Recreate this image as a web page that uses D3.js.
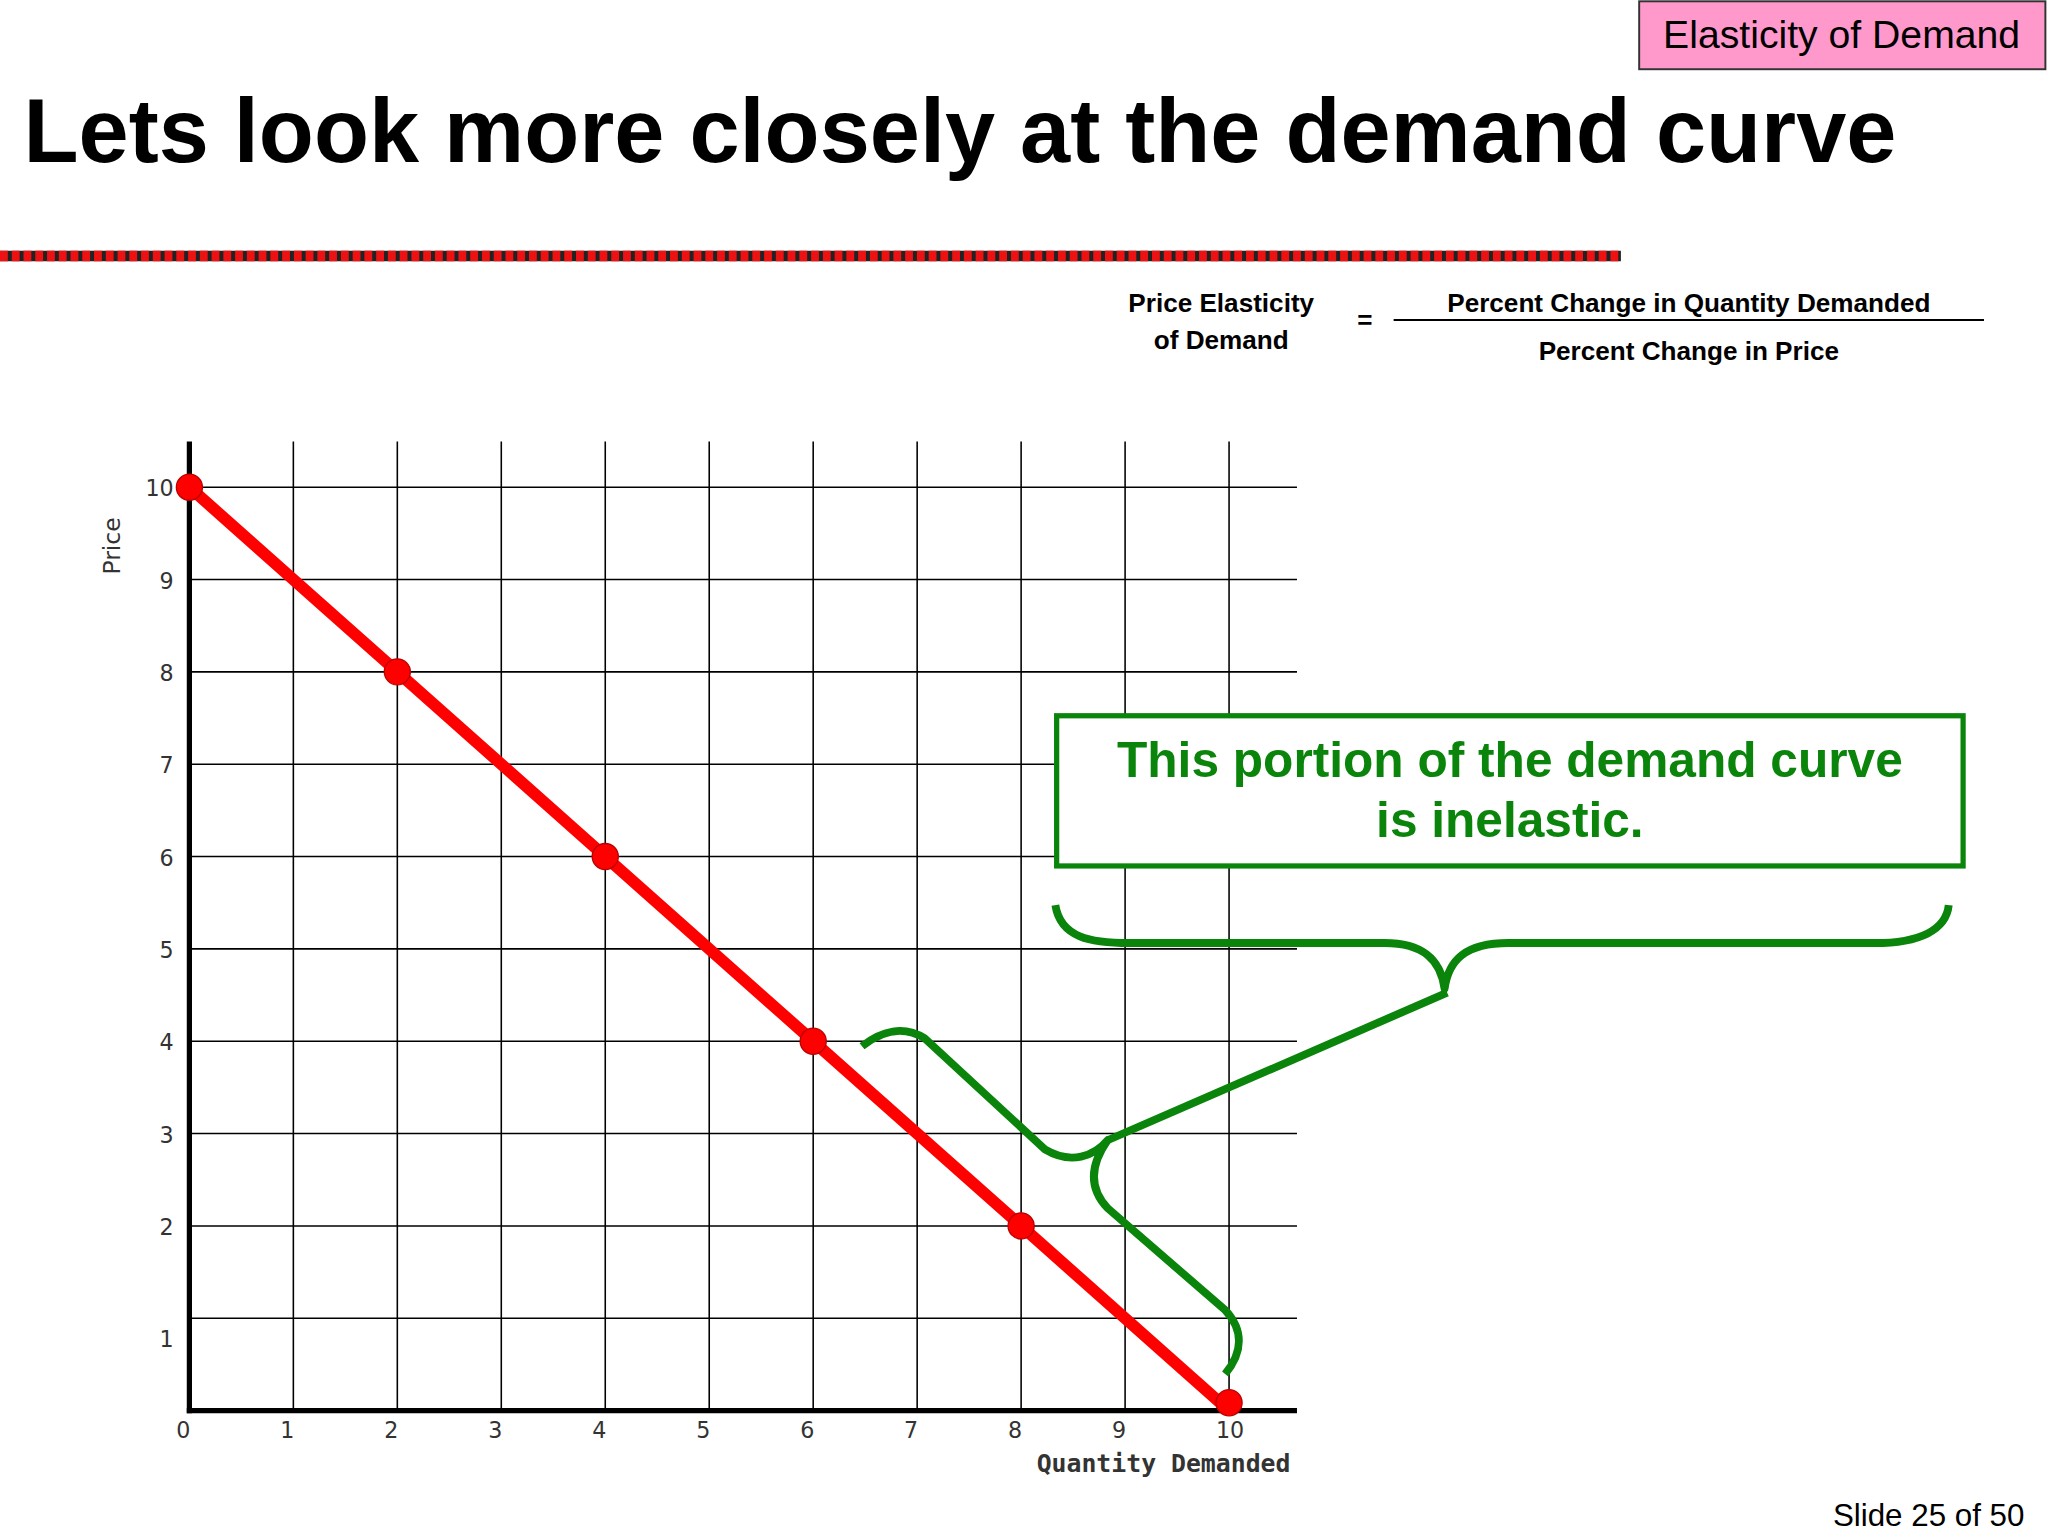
<!DOCTYPE html><html><head><meta charset="utf-8">
<script src="https://cdn.jsdelivr.net/npm/d3@7"></script>
<style>body{margin:0;background:#fff}</style></head><body>
<script>
const xTicks=[0,1,2,3,4,5,6,7,8,9,10];
const yTicks=[1,2,3,4,5,6,7,8,9,10];
const qty=[0,2,4,6,8,10];
const price=[10,8,6,4,2,0];
const svg=d3.select("body").append("svg").attr("width",2048).attr("height",1536).attr("viewBox","0 0 1568 1176");
const F="Arial, Liberation Sans, sans-serif";
const x=d3.scaleLinear().domain([0,10]).range([145,941]);
const y=d3.scaleLinear().domain([0,10]).range([1080,373]);
svg.append("rect").attr("x",1255).attr("y",1).attr("width",311).attr("height",52).attr("fill","#ff99cc").attr("stroke","#333").attr("stroke-width",1.5);
svg.append("text").attr("x",1410).attr("y",37).attr("text-anchor","middle").attr("font-family",F).attr("font-size",30).text("Elasticity of Demand");
svg.append("text").attr("x",18).attr("y",124).attr("font-family",F).attr("font-weight","bold").attr("font-size",69).text("Lets look more closely at the demand curve");
svg.append("line").attr("x1",0).attr("x2",1241).attr("y1",196).attr("y2",196).attr("stroke","#222").attr("stroke-width",8);
svg.append("line").attr("x1",0).attr("x2",1241).attr("y1",196).attr("y2",196).attr("stroke","#ee1111").attr("stroke-width",8).attr("stroke-dasharray","6 3");
const ft=(t,xx,yy)=>svg.append("text").attr("x",xx).attr("y",yy).attr("text-anchor","middle").attr("font-family",F).attr("font-weight","bold").attr("font-size",20).text(t);
ft("Price Elasticity",935,239);ft("of Demand",935,267);ft("=",1045,252);
ft("Percent Change in Quantity Demanded",1293,239);ft("Percent Change in Price",1293,276);
svg.append("line").attr("x1",1067).attr("x2",1519).attr("y1",245).attr("y2",245).attr("stroke","#000").attr("stroke-width",1.5);
const g=svg.append("g");
xTicks.slice(1).forEach(t=>g.append("line").attr("x1",x(t)).attr("x2",x(t)).attr("y1",338).attr("y2",1080).attr("stroke","#000").attr("stroke-width",1.2));
yTicks.forEach(t=>g.append("line").attr("x1",145).attr("x2",993).attr("y1",y(t)).attr("y2",y(t)).attr("stroke","#000").attr("stroke-width",1.2));
g.append("line").attr("x1",145).attr("x2",145).attr("y1",338).attr("y2",1082).attr("stroke","#000").attr("stroke-width",4);
g.append("line").attr("x1",143).attr("x2",993).attr("y1",1080).attr("y2",1080).attr("stroke","#000").attr("stroke-width",4);
xTicks.forEach(t=>g.append("text").attr("x",x(t)-10).attr("y",1101).attr("text-anchor","start").attr("font-family","DejaVu Sans").attr("font-size",17).attr("fill","#333").text(t));
yTicks.forEach(t=>g.append("text").attr("x",133).attr("y",y(t)+7+(t===1?15:0)).attr("text-anchor","end").attr("font-family","DejaVu Sans").attr("font-size",17).attr("fill","#333").text(t));
g.append("text").attr("transform","translate(92,418) rotate(-90)").attr("text-anchor","middle").attr("font-family","DejaVu Sans").attr("font-size",18).attr("fill","#333").text("Price");
g.append("text").attr("x",988).attr("y",1127).attr("text-anchor","end").attr("font-family","DejaVu Sans Mono, monospace").attr("font-weight","bold").attr("font-size",19).attr("fill","#333").text("Quantity Demanded");
const pts=qty.map((q,i)=>[q,price[i]]);
svg.append("path").attr("d",d3.line().x(d=>x(d[0])).y(d=>y(d[1]))(pts)).attr("stroke","#ff0000").attr("stroke-width",9).attr("fill","none");
svg.selectAll("circle").data(pts).join("circle").attr("cx",d=>x(d[0])).attr("cy",d=>Math.min(y(d[1]),1074)).attr("r",10).attr("fill","#ff0000").attr("stroke","#b00").attr("stroke-width",1);
const G="#0a840a";
svg.append("rect").attr("x",809).attr("y",548).attr("width",694).attr("height",115).attr("fill","#fff").attr("stroke",G).attr("stroke-width",4);
[["This portion of the demand curve",595],["is inelastic.",641]].forEach(([t,yy])=>svg.append("text").attr("x",1156).attr("y",yy).attr("text-anchor","middle").attr("font-family",F).attr("font-weight","bold").attr("font-size",38).attr("fill",G).text(t));
const br=(d)=>svg.append("path").attr("d",d).attr("fill","none").attr("stroke",G).attr("stroke-width",6).attr("stroke-linejoin","round");
br("M808,693 C812,718 835,722 865,722 L1060,722 C1090,722 1103,735 1106,757 C1109,735 1122,722 1155,722 L1435,722 C1470,722 1490,712 1492,693");
br("M1108,760 L848,873");
br("M660,801 C675,789 692,785 708,795 L800,880 C820,892 838,885 848,873 C836,890 832,908 848,925 L938,1003 C952,1018 952,1035 938,1052");
svg.append("text").attr("x",1550).attr("y",1168).attr("text-anchor","end").attr("font-family",F).attr("font-size",24).text("Slide 25 of 50");
</script></body></html>
